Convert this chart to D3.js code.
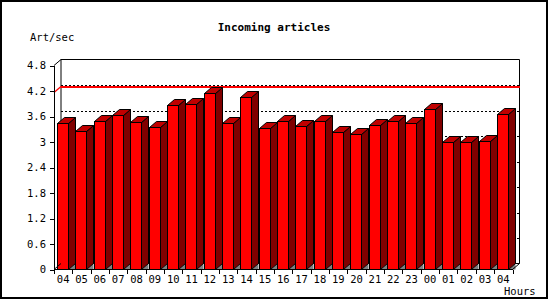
<!DOCTYPE html>
<html>
<head>
<meta charset="utf-8">
<script src="https://cdn.jsdelivr.net/npm/d3@7"></script>
<style>
  body { margin: 0; background: #fff; }
  svg { display: block; }
  line, rect { shape-rendering: crispEdges; }
</style>
</head>
<body>
<div id="chart"></div>
<script>
// hourly incoming article rate (articles per second)
const hours = ["04","05","06","07","08","09","10","11","12","13","14","15","16",
               "17","18","19","20","21","22","23","00","01","02","03","04"];
const rates = [3.44, 3.25, 3.49, 3.63, 3.46, 3.35, 3.86, 3.89, 4.16, 3.44, 4.05, 3.32, 3.49,
               3.37, 3.49, 3.24, 3.18, 3.39, 3.49, 3.44, 3.77, 2.99, 2.99, 3.02, 3.65];
const yTicks = [0, 0.6, 1.2, 1.8, 2.4, 3, 3.6, 4.2, 4.8];
const yLabels = ["0", "0.6", "1.2", "1.8", "2.4", "3", "3.6", "4.2", "4.8"];

const width = 550, height = 300;
const DX = 7, DY = 6;           // depth offset of the 3d look
const mono = "'DejaVu Sans Mono', 'Liberation Mono', monospace";

const svg = d3.select("#chart").append("svg")
    .attr("width", width)
    .attr("height", height);

// frame
svg.append("rect")
    .attr("x", 1).attr("y", 1)
    .attr("width", 546).attr("height", 297)
    .attr("fill", "#fff").attr("stroke", "#000").attr("stroke-width", 2);

const x = d3.scaleBand()
    .domain(d3.range(hours.length))
    .range([54, 512.5]);
const y = d3.scaleLinear()
    .domain([0, 4.8])
    .range([269.5, 65.5]);

const x0 = 54, x1 = 512.5;
const y0 = y(0), yTop = y(4.8);

// back wall
svg.append("path")
    .attr("d", `M${x0 + DX},${yTop - DY}H${x1 + DX}V${y0 - DY}H${x0 + DX}Z`)
    .attr("fill", "none").attr("stroke", "#000");

// dotted grid on back wall
svg.append("g").selectAll("line")
    .data(yTicks.filter(t => t > 0 && t < 4.8))
    .join("line")
    .attr("x1", x0 + DX).attr("x2", x1 + DX)
    .attr("y1", d => Math.round(y(d) - DY) + 0.5)
    .attr("y2", d => Math.round(y(d) - DY) + 0.5)
    .attr("stroke", "#000")
    .attr("stroke-dasharray", "2,2");

// max line (drawn on the back wall, just below the 4.2 grid line)
const maxV = d3.max(rates);
const ym = Math.floor(y(maxV)) + 0.5;
svg.append("path")
    .attr("d", `M${x0},${ym}L${x0 + DX},${ym - DY}`)
    .attr("fill", "none").attr("stroke", "#ff0000").attr("stroke-width", 1.3);
svg.append("rect")
    .attr("x", x0 + DX).attr("y", ym - DY - 0.5)
    .attr("width", x1 - x0).attr("height", 1.6)
    .attr("fill", "#ff0000");

// bars
const bw = 11;
const bars = svg.append("g").selectAll("g")
    .data(rates)
    .join("g");

bars.each(function (v, i) {
    const g = d3.select(this);
    const bx = Math.round(x(i) + 3) + 0.5;
    const top = Math.round(y(v)) + 0.5;
    const br = bx + bw;
    g.append("path")   // floor shadow
        .attr("d", `M${br},${y0}L${br + DX},${y0 - DY}V${y0}Z`)
        .attr("fill", "#808080");
    g.append("path")   // side
        .attr("d", `M${br},${top}L${br + DX},${top - DY}V${y0 - DY}L${br},${y0}Z`)
        .attr("fill", "#800000").attr("stroke", "#000");
    g.append("path")   // top
        .attr("d", `M${bx},${top}L${bx + DX},${top - DY}H${br + DX}L${br},${top}Z`)
        .attr("fill", "#c00000").attr("stroke", "#000");
    g.append("rect")   // front
        .attr("x", bx).attr("y", top)
        .attr("width", bw).attr("height", y0 - top)
        .attr("fill", "#ff0000").attr("stroke", "#000");
});

// floor / side edges
svg.append("path")
    .attr("d", `M${x0},${yTop}L${x0 + DX},${yTop - DY}M${x0},${y0}L${x0 + DX},${y0 - DY}M${x1},${y0}L${x1 + DX},${y0 - DY}`)
    .attr("fill", "none").attr("stroke", "#000");

// y axis
const yAxis = svg.append("g")
    .attr("transform", `translate(${x0},0)`)
    .call(d3.axisLeft(y)
        .tickValues(yTicks)
        .tickFormat((d, i) => yLabels[i])
        .tickSize(4)
        .tickSizeOuter(0)
        .tickPadding(4));
yAxis.select(".domain").attr("stroke", "#000");
yAxis.selectAll("text")
    .attr("font-family", mono).attr("font-size", "10.5px").attr("fill", "#000");

// x axis
svg.append("line")
    .attr("x1", x0).attr("x2", x1).attr("y1", y0).attr("y2", y0)
    .attr("stroke", "#000");
svg.append("g").selectAll("line")
    .data(d3.range(hours.length + 1))
    .join("line")
    .attr("x1", i => Math.round(i < hours.length ? x(i) : x1) + 0.5)
    .attr("x2", i => Math.round(i < hours.length ? x(i) : x1) + 0.5)
    .attr("y1", y0).attr("y2", y0 + 4)
    .attr("stroke", "#000");
svg.append("g").selectAll("text")
    .data(hours)
    .join("text")
    .attr("x", (d, i) => x(i) + x.bandwidth() / 2)
    .attr("y", 283)
    .attr("text-anchor", "middle")
    .attr("font-family", mono).attr("font-size", "10.5px")
    .text(d => d);

// texts
svg.append("text")
    .attr("x", 274).attr("y", 31)
    .attr("text-anchor", "middle")
    .attr("font-family", mono).attr("font-size", "11px").attr("font-weight", "bold")
    .text("Incoming articles");
svg.append("text")
    .attr("x", 30).attr("y", 41)
    .attr("font-family", mono).attr("font-size", "10.5px")
    .text("Art/sec");
svg.append("text")
    .attr("x", 504).attr("y", 295)
    .attr("font-family", mono).attr("font-size", "10.5px")
    .text("Hours");
</script>
</body>
</html>
